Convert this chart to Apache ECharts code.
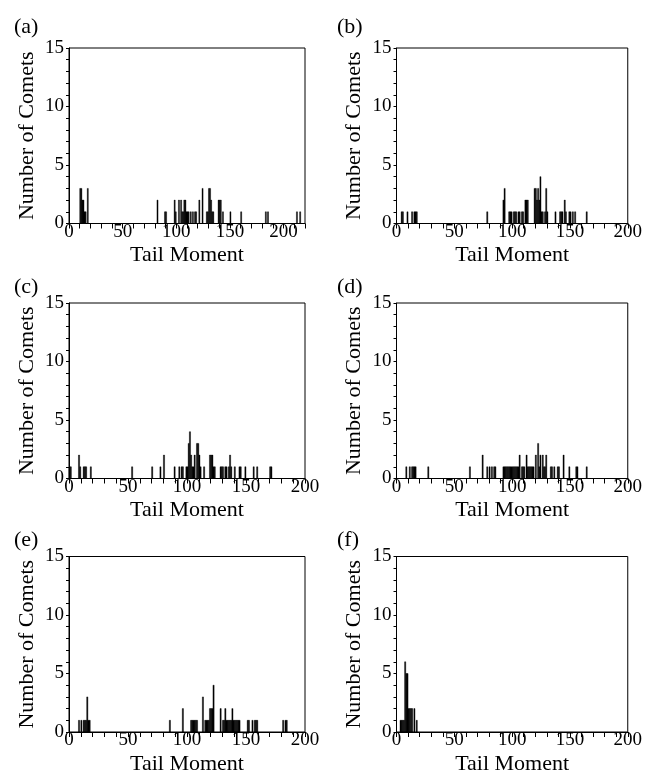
<!DOCTYPE html>
<html>
<head>
<meta charset="utf-8">
<script src="https://cdn.jsdelivr.net/npm/echarts@6/dist/echarts.min.js"></script>
<style>
html,body{margin:0;padding:0;background:#fff;}
#chart{width:645px;height:779px;}
</style>
</head>
<body>
<div id="chart"></div>
<script>
// Histogram bins: [bin start (Tail Moment), number of comets], bin width 1
const binsA = [[10,3],[11,3],[12,2],[13,2],[14,1],[15,1],[17,3],
  [82,2],[89,1],[90,1],[98,2],[99,1],[102,2],[104,2],[105,1],[106,1],[107,2],[108,2],[109,1],[110,1],[111,1],
  [113,1],[115,1],[117,1],[118,1],[121,2],[124,3],[128,1],[129,1],[130,3],[131,3],[132,2],[133,1],[134,1],
  [139,2],[140,2],[141,2],[143,1],[150,1],[160,1],[183,1],[185,1],[212,1],[215,1]];
const binsB = [[4,1],[5,1],[9,1],[13,1],[15,1],[16,1],[17,1],[78,1],[92,2],[93,3],
  [97,1],[98,1],[99,1],[101,1],[102,1],[103,1],[105,1],[106,1],[108,1],[109,1],
  [111,2],[112,2],[113,2],[119,3],[120,3],[121,2],[122,3],[123,2],[124,4],[125,1],[126,1],[128,1],[129,3],[130,1],
  [137,1],[141,1],[142,1],[143,1],[145,2],[146,1],[149,1],[150,1],[152,1],[154,1],[164,1]];
const binsC = [[0,1],[1,1],[8,2],[9,1],[12,1],[13,1],[14,1],[18,1],[53,1],[70,1],[77,1],[80,2],[89,1],
  [93,1],[95,1],[96,1],[99,1],[100,1],[101,3],[102,4],[103,2],[104,1],[105,1],[106,2],[108,3],[109,3],[110,2],
  [111,1],[114,1],[119,2],[120,2],[121,2],[122,1],[123,1],[128,1],[129,1],[130,1],[132,1],[133,1],[135,1],
  [136,2],[137,1],[140,1],[144,1],[145,1],[149,1],[156,1],[159,1],[170,1],[171,1]];
const binsD = [[8,1],[11,1],[13,1],[14,1],[15,1],[16,1],[27,1],[63,1],[74,2],[78,1],[80,1],[82,1],[84,1],[85,1],
  [92,1],[93,1],[94,1],[95,1],[96,1],[97,1],[98,1],[99,1],[100,1],[101,1],[102,1],[103,1],[104,1],[105,1],
  [106,2],[108,1],[109,1],[110,1],[112,2],[113,1],[114,1],[115,1],[116,1],[117,1],[118,1],[120,2],[122,3],
  [123,1],[124,2],[126,2],[127,1],[128,1],[129,2],[133,1],[134,1],[136,1],[139,1],[140,1],[144,2],[149,1],
  [155,1],[156,1],[164,1]];
const binsE = [[8,1],[10,1],[12,1],[13,1],[14,1],[15,3],[16,1],[17,1],[85,1],[96,2],[103,1],[104,1],
  [105,1],[106,1],[107,1],[108,1],[113,3],[115,1],[116,1],[117,1],[118,1],[119,2],[120,2],[121,2],[122,4],
  [128,2],[130,1],[131,1],[132,2],[133,1],[134,1],[135,1],[136,1],[137,1],[138,2],[139,1],[140,1],[141,1],
  [142,1],[143,1],[144,1],[151,1],[152,1],[155,1],[157,1],[158,1],[159,1],[181,1],[183,1],[184,1]];
const binsF = [[3,1],[4,1],[5,1],[6,1],[7,6],[8,5],[9,5],[10,2],[11,2],[12,2],[13,2],[15,2],[17,1]];

const panelLabels = ['(a)','(b)','(c)','(d)','(e)','(f)'];
const xMaxes = [220, 200, 200, 200, 200, 200];
const xLabelStep = 50;
const yLabelStep = 5;
const xName = 'Tail Moment';
const yName = 'Number of Comets';

const panels = [binsA, binsB, binsC, binsD, binsE, binsF];
const FONT = '"Liberation Serif", "DejaVu Serif", serif';

const colLeft = [69, 396.5];
const colWidth = [236, 235.5];
const rowTop = [48, 303, 556.5];
const plotH = 175.5;

const grids = [], xAxes = [], yAxes = [], series = [], titles = [];
panels.forEach((bins, i) => {
  const c = i % 2, r = Math.floor(i / 2);
  grids.push({left: colLeft[c], top: rowTop[r], width: colWidth[c], height: plotH,
    show: true, borderColor: '#000', borderWidth: 1, backgroundColor: 'transparent'});
  xAxes.push({type: 'value', gridIndex: i, min: 0, max: xMaxes[i], interval: 10,
    name: xName, nameLocation: 'middle', nameGap: 21,
    nameTextStyle: {fontFamily: FONT, fontSize: 22, color: '#000'},
    axisLine: {show: true, lineStyle: {color: '#000', width: 1}},
    axisTick: {show: true, inside: false, length: 5, lineStyle: {color: '#000', width: 1}},
    axisLabel: {show: true, margin: -1, fontFamily: FONT, fontSize: 19, color: '#000',
      formatter: v => (v % xLabelStep === 0 ? String(v) : '')},
    splitLine: {show: false}});
  yAxes.push({type: 'value', gridIndex: i, min: 0, max: 15, interval: 1,
    name: yName, nameLocation: 'middle', nameGap: 31, nameRotate: 90,
    nameTextStyle: {fontFamily: FONT, fontSize: 22, color: '#000'},
    axisLine: {show: true, lineStyle: {color: '#000', width: 1}},
    axisTick: {show: true, inside: false, length: 3, lineStyle: {color: '#000', width: 1}},
    axisLabel: {show: true, margin: 5, fontFamily: FONT, fontSize: 19, color: '#000',
      formatter: v => (v % yLabelStep === 0 ? String(v) : '')},
    splitLine: {show: false}});
  series.push({type: 'custom', xAxisIndex: i, yAxisIndex: i, data: bins,
    encode: {x: 0, y: 1},
    renderItem: function (params, api) {
      const x0 = api.value(0), n = api.value(1);
      const p0 = api.coord([x0, n]);
      const p1 = api.coord([x0 + 1, 0]);
      return {type: 'rect',
        shape: {x: p0[0], y: p0[1], width: p1[0] - p0[0], height: p1[1] - p0[1]},
        style: {fill: '#000', stroke: '#000', lineWidth: 0.4}};
    }});
  titles.push({text: panelLabels[i], left: c === 0 ? 9 : 332, top: [11, 271, 524][r],
    textStyle: {fontFamily: FONT, fontSize: 22, fontWeight: 'normal', color: '#000'}});
});

const chart = echarts.init(document.getElementById('chart'), null, {renderer: 'canvas'});
chart.setOption({
  backgroundColor: '#fff',
  animation: false,
  title: titles,
  grid: grids,
  xAxis: xAxes,
  yAxis: yAxes,
  series: series
});
</script>
</body>
</html>
